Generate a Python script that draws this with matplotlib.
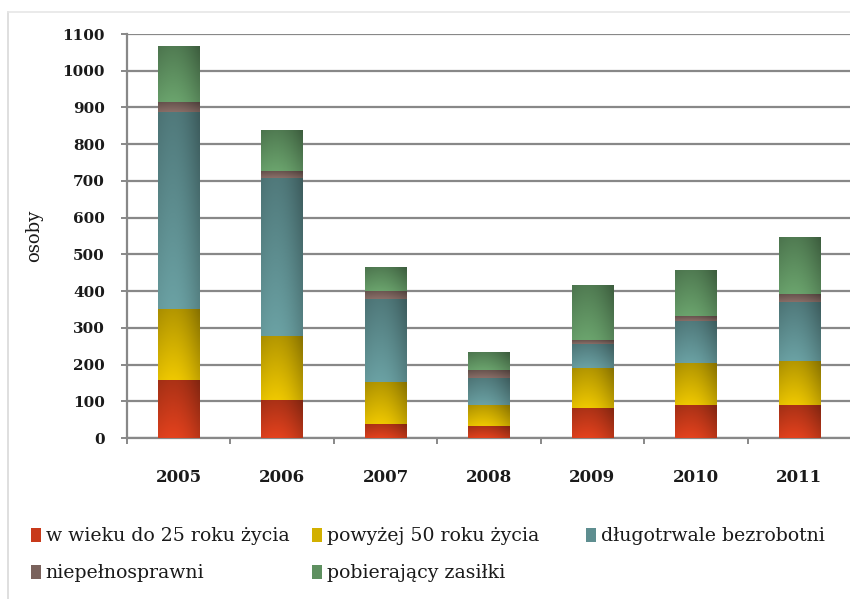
import numpy as np
import matplotlib
matplotlib.use("Agg")
import matplotlib.pyplot as plt
from matplotlib.colors import to_rgb
from matplotlib.lines import Line2D

years = ["2005", "2006", "2007", "2008", "2009", "2010", "2011"]
series_names = [
    "w wieku do 25 roku życia",
    "powyżej 50 roku życia",
    "długotrwale bezrobotni",
    "niepełnosprawni",
    "pobierający zasiłki",
]
under_25 = [158, 103, 39, 32, 82, 89, 89]
over_50 = [192, 175, 114, 58, 108, 114, 121]
long_term = [538, 431, 225, 74, 66, 116, 161]
disabled = [27, 19, 22, 21, 10, 13, 21]
benefits = [153, 110, 65, 49, 151, 125, 155]
y_ticks = [0, 100, 200, 300, 400, 500, 600, 700, 800, 900, 1000, 1100]

series_values = [under_25, over_50, long_term, disabled, benefits]
colors = ["#C83A1A", "#D2B000", "#5E8E90", "#7A625C", "#5E9060"]

plt.rcParams["font.family"] = ["DejaVu Serif"]

fig = plt.figure(figsize=(8.5, 5.99), dpi=100)
ax = fig.add_axes([127 / 850, 161 / 599, 724 / 850, 404 / 599])

# light outer frame of the chart area
fig.add_artist(Line2D([8 / 850, 8 / 850], [0, 1 - 12 / 599], transform=fig.transFigure,
                      color="#D9D9D9", lw=1.2))
fig.add_artist(Line2D([8 / 850, 1], [1 - 12 / 599, 1 - 12 / 599], transform=fig.transFigure,
                      color="#E6E6E6", lw=1.2))

x = np.arange(len(years))
width = 0.40
bottom = np.zeros(len(years))
containers = []


def shade(base):
    """Small 2-D gradient: darker towards the top and right edge, lighter lower-left."""
    r, g, b = to_rgb(base)
    yy, xx = np.mgrid[0:1:40j, 0:1:40j]
    # yy=0 at top of image (origin upper)
    k = 0.80 + 0.28 * yy - 0.16 * xx ** 1.5 + 0.10 * np.sin(np.pi * xx)
    img = np.empty((40, 40, 3))
    for i, c in enumerate((r, g, b)):
        img[..., i] = np.clip(c * k, 0, 1)
    return img


for vals, col, name in zip(series_values, colors, series_names):
    bars = ax.bar(x, vals, width, bottom=bottom, color=col, label=name,
                  edgecolor="none", zorder=3)
    containers.append(bars)
    img = shade(col)
    for rect in bars:
        x0, y0 = rect.get_x(), rect.get_y()
        w, h = rect.get_width(), rect.get_height()
        im = ax.imshow(img, extent=(x0, x0 + w, y0, y0 + h), aspect="auto",
                       origin="upper", zorder=4, interpolation="bicubic")
        im.set_clip_path(rect)
    bottom += np.array(vals)

ax.set_xlim(-0.5, len(years) - 0.5)
ax.set_ylim(0, 1100)
ax.set_yticks(y_ticks)
ax.set_yticklabels([str(v) for v in y_ticks])
ax.set_xticks(x)
ax.set_xticklabels(years)
ax.set_xticks(np.arange(len(years) + 1) - 0.5, minor=True)

grid_col = "#888888"
ax.yaxis.grid(True, color=grid_col, lw=1.6, zorder=1)
ax.set_axisbelow(True)
for s in ("top", "right"):
    ax.spines[s].set_visible(False)
for s in ("left", "bottom"):
    ax.spines[s].set_color(grid_col)
    ax.spines[s].set_linewidth(1.6)

ax.tick_params(axis="y", direction="out", length=4, width=1.4, color=grid_col,
               pad=12, labelsize=11, labelcolor="#1A1A1A")
ax.tick_params(axis="x", which="major", length=0, pad=22, labelsize=12,
               labelcolor="#1A1A1A")
ax.tick_params(axis="x", which="minor", direction="out", length=4, width=1.4,
               color=grid_col)
for lab in ax.get_yticklabels() + ax.get_xticklabels():
    lab.set_fontweight("bold")

ax.set_ylabel("osoby", fontsize=13, color="#1A1A1A", labelpad=14)

# legend laid out in three columns below the plot
columns = [([0, 3], 22 / 850), ([1, 4], 303 / 850), ([2], 577 / 850)]
for idx, xpos in columns:
    leg = fig.legend([containers[i] for i in idx], [series_names[i] for i in idx],
                     loc="upper left", bbox_to_anchor=(xpos, 1 - 518 / 599),
                     frameon=False, fontsize=13.6, handlelength=0.5, handleheight=0.75,
                     handletextpad=0.25, labelspacing=1.0, borderpad=0,
                     labelcolor="#1A1A1A")

fig.savefig("out.png", dpi=100)
